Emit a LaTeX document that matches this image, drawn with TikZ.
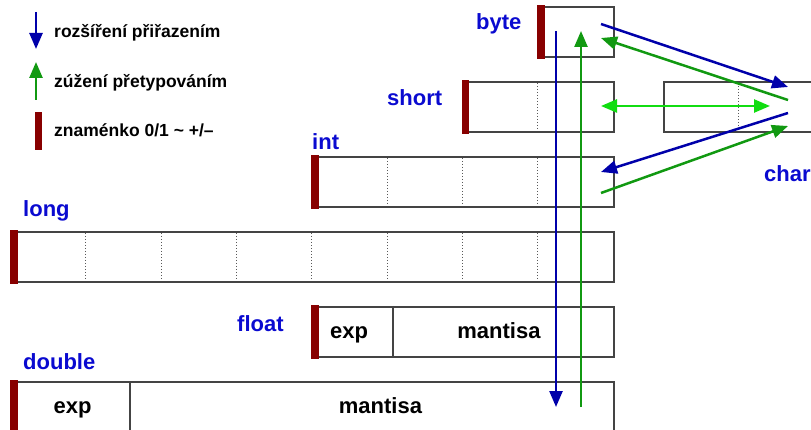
\documentclass[tikz,border=0pt]{standalone}
\usepackage{fontspec}
\setmainfont{Liberation Sans}
\usetikzlibrary{arrows.meta,calc}
\definecolor{lblblue}{HTML}{0A0AD0}
\definecolor{arrblue}{HTML}{0000AA}
\definecolor{arrgreen}{HTML}{119911}
\definecolor{ltgreen}{HTML}{11DD11}
\definecolor{signred}{HTML}{880000}
\definecolor{boxgray}{HTML}{444444}
\tikzset{
 cellbox/.style={draw=boxgray, line width=1.9pt, rectangle, inner sep=0pt, anchor=north west, minimum height=50pt},
 typelbl/.style={text=lblblue, font=\fontsize{22}{26}\selectfont\bfseries, anchor=base west, inner sep=0pt},
 celltext/.style={font=\fontsize{22}{26}\selectfont\bfseries, anchor=base, inner sep=0pt},
 legtext/.style={font=\fontsize{17.5}{21}\selectfont\bfseries, anchor=base west, inner sep=0pt},
 divline/.style={black!65, dotted, line width=1pt},
 fieldline/.style={boxgray, line width=1.9pt},
 tipshape/.style={},
 widen/.style={arrblue, line width=2.5pt, -{Triangle[length=16pt,width=13pt]}},
 narrow/.style={arrgreen, line width=2.5pt, -{Triangle[length=16pt,width=13pt]}},
 both/.style={ltgreen, line width=2.5pt, {Triangle[length=16pt,width=13pt]}-{Triangle[length=16pt,width=13pt]}},
}
\begin{document}
\begin{tikzpicture}[x=1pt,y=-1pt]
\useasboundingbox (0,0) rectangle (811,430);
\clip (0,0) rectangle (811,430);
% boxes
\node[cellbox, minimum width=75.3pt]  (byte)   at (537.7,6)   {};
\node[cellbox, minimum width=150.6pt] (short)  at (462.4,81)  {};
\node[cellbox, minimum width=150.6pt] (char)   at (663,81)    {};
\node[cellbox, minimum width=301.2pt] (int)    at (311.8,156) {};
\node[cellbox, minimum width=602.4pt] (long)   at (10.6,231)  {};
\node[cellbox, minimum width=301.2pt] (float)  at (311.8,306) {};
\node[cellbox, minimum width=602.4pt] (double) at (10.6,381)  {};
% byte dividers
\draw[divline] ($(short.north west)+(75.3,2)$) -- ($(short.south west)+(75.3,-2)$);
\draw[divline] ($(char.north west)+(75.3,2)$) -- ($(char.south west)+(75.3,-2)$);
\foreach \i in {1,2,3}
  \draw[divline] ($(int.north west)+(\i*75.3,2)$) -- ($(int.south west)+(\i*75.3,-2)$);
\foreach \i in {1,...,7}
  \draw[divline] ($(long.north west)+(\i*75.3,2)$) -- ($(long.south west)+(\i*75.3,-2)$);
% float / double fields
\draw[fieldline] ($(float.north west)+(81,0)$) -- ($(float.south west)+(81,0)$);
\draw[fieldline] ($(double.north west)+(119.4,0)$) -- ($(double.south west)+(119.4,0)$);
\node[celltext] (fexp) at (349,338) {exp};
\node[celltext] (fman) at (499,338) {mantisa};
\node[celltext] (dexp) at (72.5,413) {exp};
\node[celltext] (dman) at (380.5,413) {mantisa};
% sign bars
\foreach \b in {byte,short,int,long,float,double}
  \fill[signred] ($(\b.north west)+(-0.9,-0.9)$) rectangle ($(\b.south west)+(7,0.9)$);
% type labels
\node[typelbl] (lbyte)   at (476,30)  {byte};
\node[typelbl] (lshort)  at (387,106) {short};
\node[typelbl] (lint)    at (312,150) {int};
\node[typelbl] (lchar)   at (764,182) {char};
\node[typelbl] (llong)   at (23,217)  {long};
\node[typelbl] (lfloat)  at (237,331) {float};
\node[typelbl] (ldouble) at (23,369)  {double};
% arrow end points
\coordinate (vbTop) at (556,31);
\coordinate (vbBot) at (556,407);
\coordinate (vgBot) at (581,407);
\coordinate (vgTop) at (581,31);
\coordinate (b1) at (601,24);
\coordinate (c1) at (788,87);
\coordinate (c2) at (788,100);
\coordinate (b2) at (601,38);
\coordinate (s1) at (601,106);
\coordinate (c3) at (770,106);
\coordinate (c4) at (788,113);
\coordinate (i1) at (601,172);
\coordinate (i2) at (601,193);
\coordinate (c5) at (788,126);
% conversion arrows
\draw[widen]  (vbTop) -- (vbBot);
\draw[narrow] (vgBot) -- (vgTop);
\draw[widen]  (b1) -- (c1);
\draw[narrow] (c2) -- (b2);
\draw[both]   (s1) -- (c3);
\draw[widen]  (c4) -- (i1);
\draw[narrow] (i2) -- (c5);
% legend
\coordinate (lgA1) at (36,12);
\coordinate (lgA2) at (36,49);
\coordinate (lgB1) at (36,100);
\coordinate (lgB2) at (36,62);
\draw[widen]  (lgA1) -- (lgA2);
\draw[narrow] (lgB1) -- (lgB2);
\fill[signred] (35,112) rectangle (42,150);
\node[legtext] (leg1) at (54,38)  {rozšíření přiřazením};
\node[legtext] (leg2) at (54,88)  {zúžení přetypováním};
\node[legtext] (leg3) at (54,137) {znaménko 0/1 \textasciitilde{} +/–};
\end{tikzpicture}
\end{document}
